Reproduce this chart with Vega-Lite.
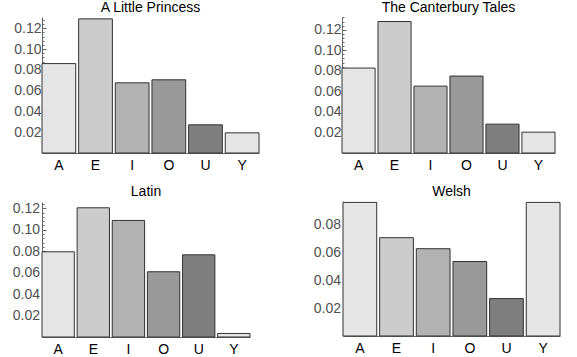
{
  "$schema": "https://vega.github.io/schema/vega-lite/v6.json",
  "background": "white",
  "padding": {"left": 12, "top": 0, "right": 0, "bottom": 0},
  "datasets": {
    "vowels": [
      {"book": "A Little Princess", "vowel": "A", "freq": 0.086},
      {"book": "A Little Princess", "vowel": "E", "freq": 0.129},
      {"book": "A Little Princess", "vowel": "I", "freq": 0.0675},
      {"book": "A Little Princess", "vowel": "O", "freq": 0.0704},
      {"book": "A Little Princess", "vowel": "U", "freq": 0.0271},
      {"book": "A Little Princess", "vowel": "Y", "freq": 0.0194},
      {"book": "The Canterbury Tales", "vowel": "A", "freq": 0.0827},
      {"book": "The Canterbury Tales", "vowel": "E", "freq": 0.128},
      {"book": "The Canterbury Tales", "vowel": "I", "freq": 0.0651},
      {"book": "The Canterbury Tales", "vowel": "O", "freq": 0.0749},
      {"book": "The Canterbury Tales", "vowel": "U", "freq": 0.0281},
      {"book": "The Canterbury Tales", "vowel": "Y", "freq": 0.0203},
      {"book": "Latin", "vowel": "A", "freq": 0.0794},
      {"book": "Latin", "vowel": "E", "freq": 0.1204},
      {"book": "Latin", "vowel": "I", "freq": 0.1086},
      {"book": "Latin", "vowel": "O", "freq": 0.0608},
      {"book": "Latin", "vowel": "U", "freq": 0.0766},
      {"book": "Latin", "vowel": "Y", "freq": 0.0033},
      {"book": "Welsh", "vowel": "A", "freq": 0.0958},
      {"book": "Welsh", "vowel": "E", "freq": 0.0705},
      {"book": "Welsh", "vowel": "I", "freq": 0.0626},
      {"book": "Welsh", "vowel": "O", "freq": 0.0534},
      {"book": "Welsh", "vowel": "U", "freq": 0.0268},
      {"book": "Welsh", "vowel": "Y", "freq": 0.0958}
    ]
  },
  "config": {
    "view": {"stroke": null},
    "font": "Liberation Sans",
    "title": {"fontSize": 14, "fontWeight": "normal", "color": "black", "offset": 2, "font": "Liberation Sans"},
    "axis": {"grid": false, "title": null, "domainColor": "#666", "tickColor": "#666", "labelFont": "Liberation Sans", "labelFontSize": 14},
    "axisX": {"ticks": false, "labelColor": "black", "labelAngle": 0, "labelPadding": 5},
    "axisY": {"labelColor": "#505050", "labelPadding": 5}
  },
  "columns": 2,
  "align": "none",
  "spacing": {"row": 13, "column": 53},
  "concat": [
    {
      "title": "A Little Princess",
      "width": 217, "height": 136,
      "data": {"name": "vowels"},
      "transform": [{"filter": "datum.book === 'A Little Princess'"}],
      "mark": {"type": "bar", "stroke": "#333", "strokeWidth": 1},
      "encoding": {
        "x": {"field": "vowel", "type": "nominal", "sort": null, "scale": {"paddingInner": 0.08, "paddingOuter": 0}},
        "y": {"field": "freq", "type": "quantitative", "scale": {"domain": [0, 0.1308], "nice": false},
          "axis": {"values": [0.004,0.008,0.012,0.016,0.02,0.024,0.028,0.032,0.036,0.04,0.044,0.048,0.052,0.056,0.06,0.064,0.068,0.072,0.076,0.08,0.084,0.088,0.092,0.096,0.1,0.104,0.108,0.112,0.116,0.12,0.124,0.128],
            "labelExpr": "round(datum.value*1000) % 20 == 0 ? format(datum.value, '.2f') : ''",
            "tickSize": {"condition": {"test": "round(datum.value*1000) % 20 == 0", "value": -4}, "value": -2}}},
        "color": {"field": "vowel", "type": "nominal", "legend": null, "scale": {"domain": ["A","E","I","O","U","Y"], "range": ["#e5e5e5","#cccccc","#b2b2b2","#999999","#7f7f7f","#e5e5e5"]}}
      }
    },
    {
      "title": "The Canterbury Tales",
      "width": 213, "height": 136,
      "data": {"name": "vowels"},
      "transform": [{"filter": "datum.book === 'The Canterbury Tales'"}],
      "mark": {"type": "bar", "stroke": "#333", "strokeWidth": 1},
      "encoding": {
        "x": {"field": "vowel", "type": "nominal", "sort": null, "scale": {"paddingInner": 0.08, "paddingOuter": 0}},
        "y": {"field": "freq", "type": "quantitative", "scale": {"domain": [0, 0.1324], "nice": false},
          "axis": {"values": [0.004,0.008,0.012,0.016,0.02,0.024,0.028,0.032,0.036,0.04,0.044,0.048,0.052,0.056,0.06,0.064,0.068,0.072,0.076,0.08,0.084,0.088,0.092,0.096,0.1,0.104,0.108,0.112,0.116,0.12,0.124,0.128,0.132],
            "labelExpr": "round(datum.value*1000) % 20 == 0 ? format(datum.value, '.2f') : ''",
            "tickSize": {"condition": {"test": "round(datum.value*1000) % 20 == 0", "value": -4}, "value": -2}}},
        "color": {"field": "vowel", "type": "nominal", "legend": null, "scale": {"domain": ["A","E","I","O","U","Y"], "range": ["#e5e5e5","#cccccc","#b2b2b2","#999999","#7f7f7f","#e5e5e5"]}}
      }
    },
    {
      "title": "Latin",
      "width": 208, "height": 135,
      "data": {"name": "vowels"},
      "transform": [{"filter": "datum.book === 'Latin'"}],
      "mark": {"type": "bar", "stroke": "#333", "strokeWidth": 1},
      "encoding": {
        "x": {"field": "vowel", "type": "nominal", "sort": null, "scale": {"paddingInner": 0.08, "paddingOuter": 0}},
        "y": {"field": "freq", "type": "quantitative", "scale": {"domain": [0, 0.1258], "nice": false},
          "axis": {"labelPadding": 6.5,
            "values": [0.004,0.008,0.012,0.016,0.02,0.024,0.028,0.032,0.036,0.04,0.044,0.048,0.052,0.056,0.06,0.064,0.068,0.072,0.076,0.08,0.084,0.088,0.092,0.096,0.1,0.104,0.108,0.112,0.116,0.12,0.124],
            "labelExpr": "round(datum.value*1000) % 20 == 0 ? '\u00a0' + format(datum.value, '.2f') : ''",
            "tickSize": {"condition": {"test": "round(datum.value*1000) % 20 == 0", "value": -4}, "value": -2}}},
        "color": {"field": "vowel", "type": "nominal", "legend": null, "scale": {"domain": ["A","E","I","O","U","Y"], "range": ["#e5e5e5","#cccccc","#b2b2b2","#999999","#7f7f7f","#e5e5e5"]}}
      }
    },
    {
      "title": "Welsh",
      "width": 217, "height": 135,
      "data": {"name": "vowels"},
      "transform": [{"filter": "datum.book === 'Welsh'"}],
      "mark": {"type": "bar", "stroke": "#333", "strokeWidth": 1},
      "encoding": {
        "x": {"field": "vowel", "type": "nominal", "sort": null, "scale": {"paddingInner": 0.08, "paddingOuter": 0}},
        "y": {"field": "freq", "type": "quantitative", "scale": {"domain": [0, 0.0968], "nice": false},
          "axis": {"labelPadding": 6.5, "values": [0.004,0.008,0.012,0.016,0.02,0.024,0.028,0.032,0.036,0.04,0.044,0.048,0.052,0.056,0.06,0.064,0.068,0.072,0.076,0.08,0.084,0.088,0.092,0.096],
            "labelExpr": "round(datum.value*1000) % 20 == 0 ? format(datum.value, '.2f') : ''",
            "tickSize": {"condition": {"test": "round(datum.value*1000) % 20 == 0", "value": -4}, "value": -2}}},
        "color": {"field": "vowel", "type": "nominal", "legend": null, "scale": {"domain": ["A","E","I","O","U","Y"], "range": ["#e5e5e5","#cccccc","#b2b2b2","#999999","#7f7f7f","#e5e5e5"]}}
      }
    }
  ]
}
